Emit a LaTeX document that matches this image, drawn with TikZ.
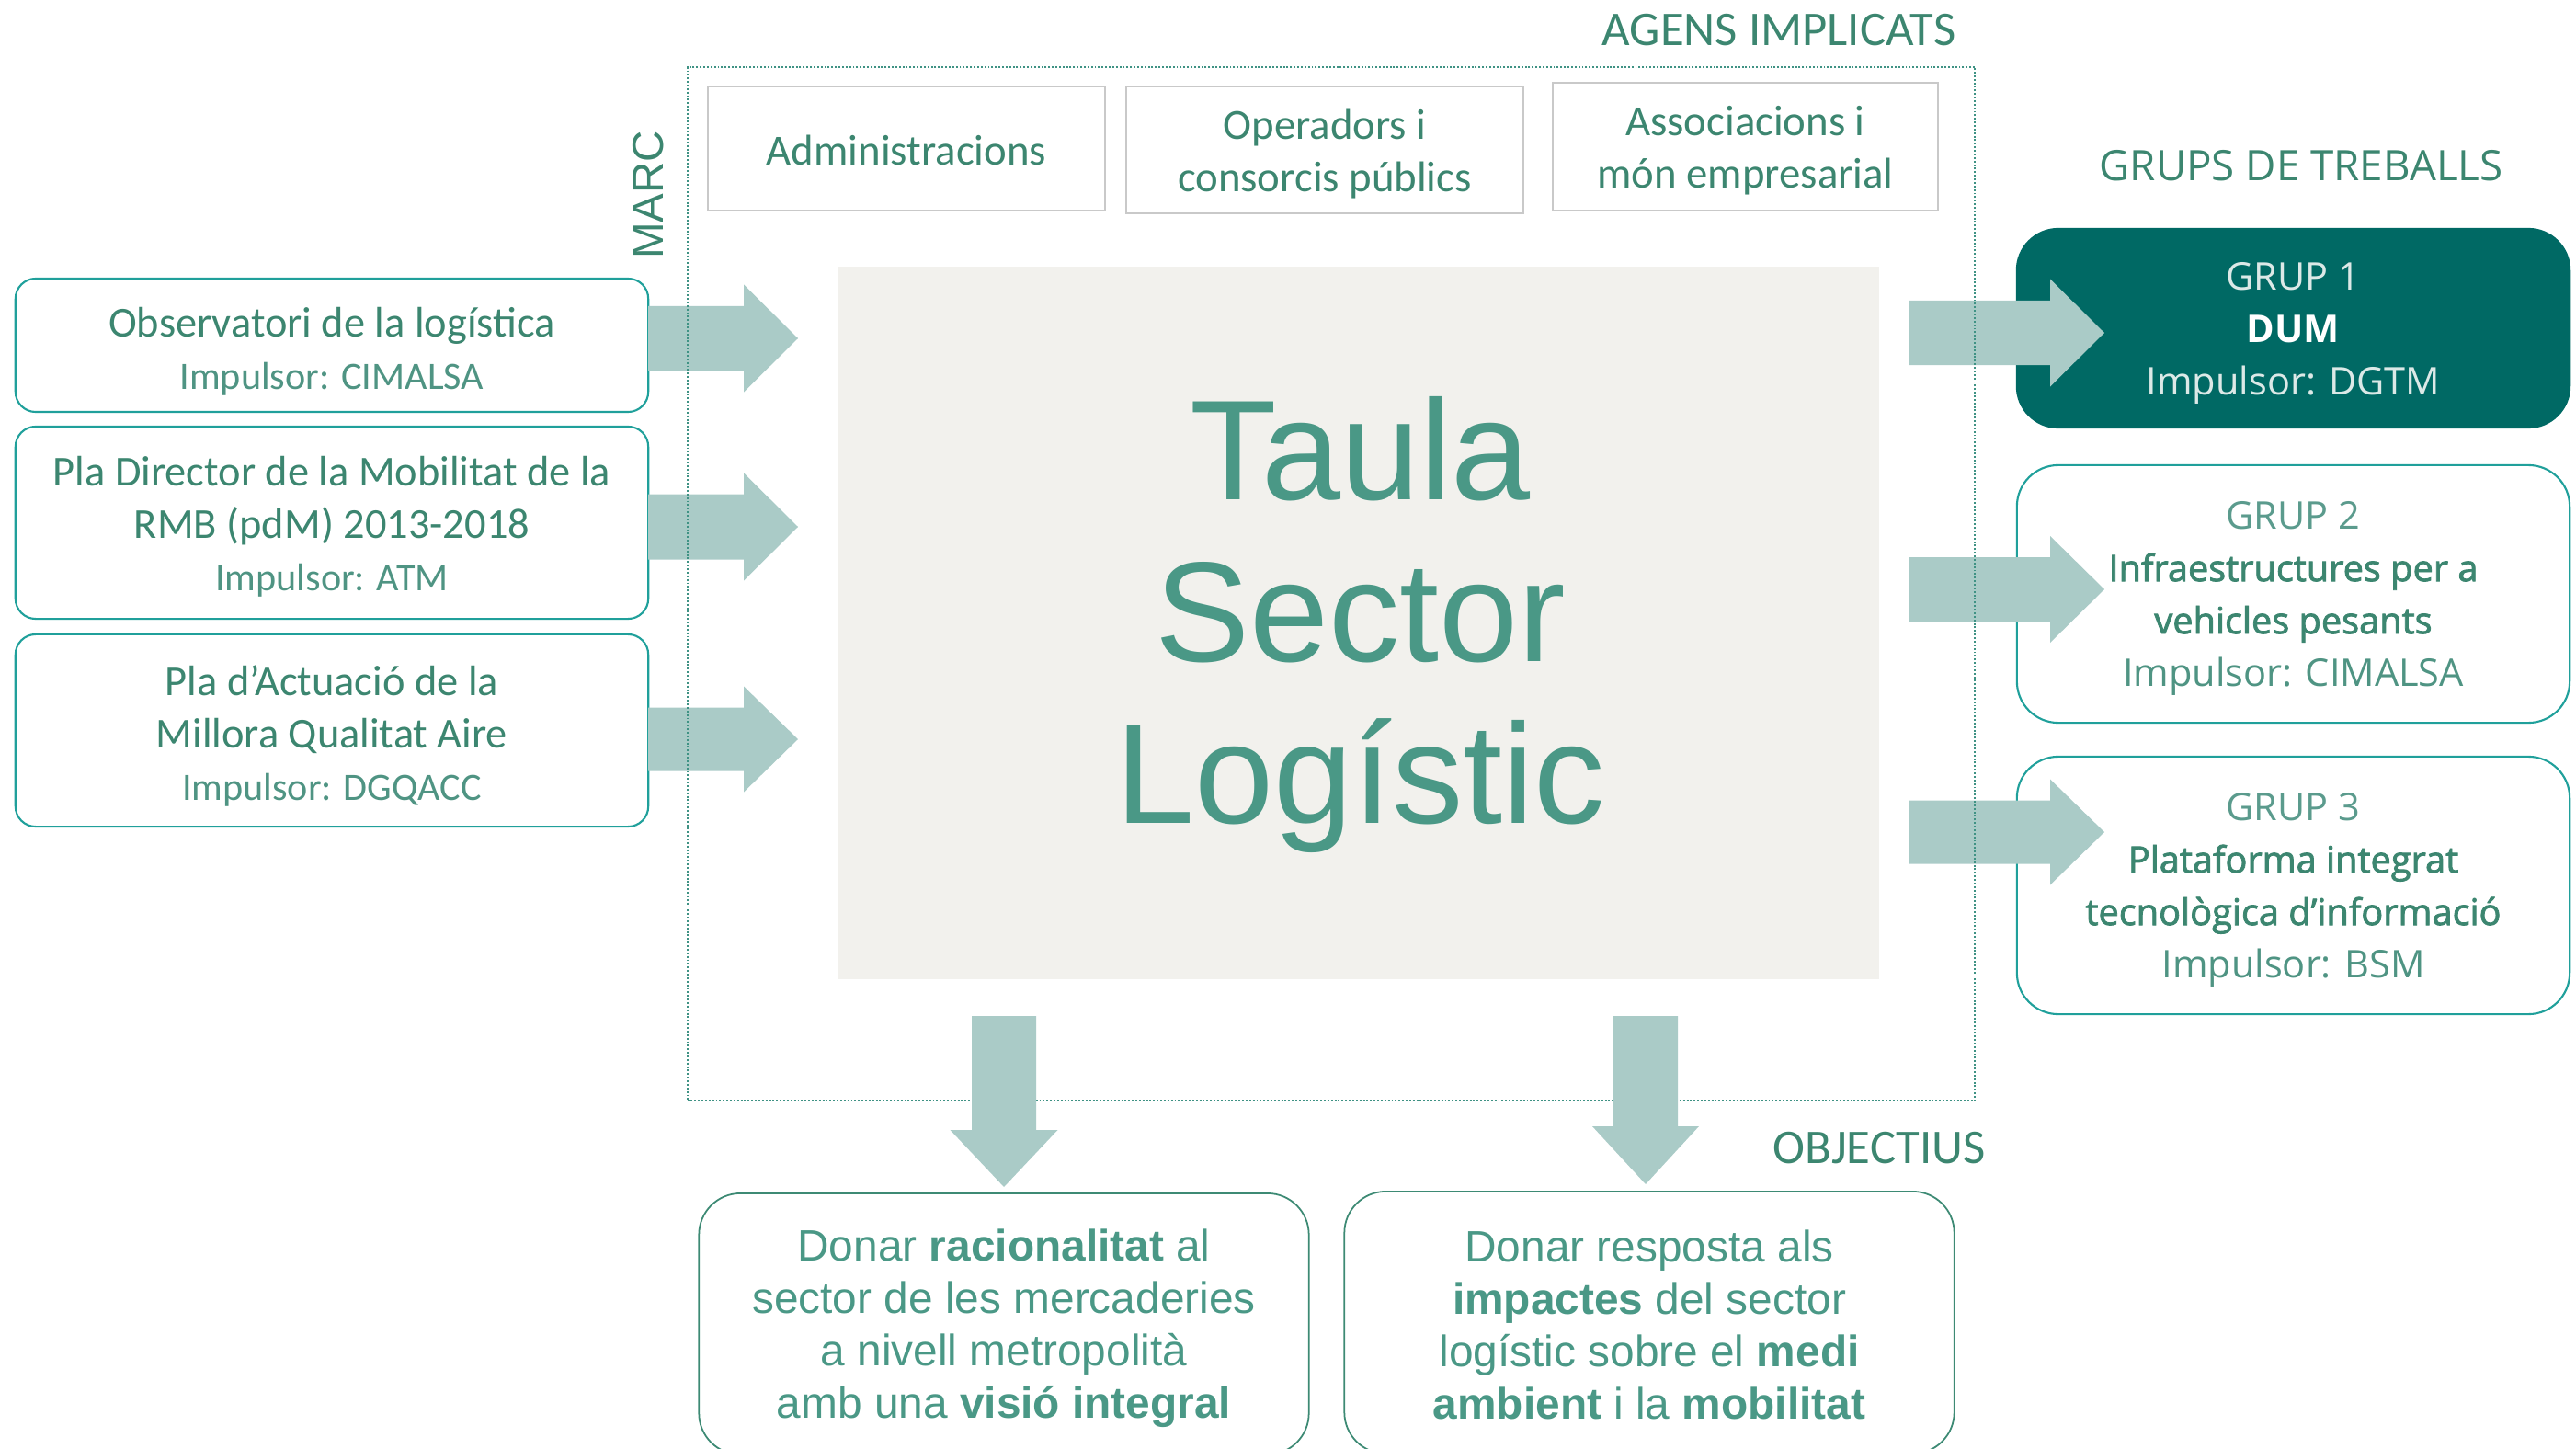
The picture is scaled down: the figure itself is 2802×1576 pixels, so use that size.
\documentclass[tikz,border=0pt]{standalone}
\usepackage{fontspec}
\setmainfont{Carlito}
\newfontfamily\arialf{Liberation Sans}
\newfontfamily\osans{Open Sans}
\newfontfamily\osansm[FakeBold=2]{Open Sans}
\definecolor{tdark}{HTML}{3C8670}
\definecolor{tlight}{HTML}{4F9483}
\definecolor{tgrp}{HTML}{5B9B8D}
\definecolor{taula}{HTML}{4A9886}
\definecolor{bordc}{HTML}{20A09B}
\definecolor{bordg}{HTML}{3D8A74}
\definecolor{arrc}{HTML}{AACBC7}
\definecolor{grayfill}{HTML}{F2F1ED}
\definecolor{agbord}{HTML}{C9C9C9}
\definecolor{darkteal}{HTML}{006964}
\definecolor{framec}{HTML}{3F9284}
\definecolor{gonea}{HTML}{DCE9E7}
\newcommand\rarr[6]{\fill[arrc] (#1,#4-#5) -- (#2,#4-#5) -- (#2,#4-#6) -- (#3,#4) -- (#2,#4+#6) -- (#2,#4+#5) -- (#1,#4+#5) -- cycle;}
\newcommand\darr[6]{\fill[arrc] (#1-#5,#2) -- (#1+#5,#2) -- (#1+#5,#3) -- (#1+#6,#3) -- (#1,#4) -- (#1-#6,#3) -- (#1-#5,#3) -- cycle;}
\newcommand\impl[1]{{\fontsize{12}{16.2}\selectfont\color{tlight}#1}}
\newcommand\gtit[1]{{\osansm\fontsize{11.3}{16.2}\selectfont #1}}
\begin{document}
\begin{tikzpicture}[x=0.01cm,y=-0.01cm,
  leftbox/.style={draw=bordc, line width=0.6pt, rounded corners=0.22cm, fill=white,
    minimum width=6.88cm, inner sep=0pt},
  lefttext/.style={inner sep=0pt, align=center, text=tdark, font=\fontsize{13.2}{16.2}\selectfont},
  agbox/.style={draw=agbord, line width=0.5pt, fill=white, inner sep=0pt},
  agtext/.style={inner sep=0pt, align=center, text=tdark, font=\fontsize{13.3}{16.2}\selectfont},
  grpbox/.style={draw=bordc, line width=0.6pt, rounded corners=0.45cm, fill=white,
    minimum width=6.01cm, inner sep=0pt},
  grptext/.style={inner sep=0pt, align=center, text=tdark, font=\osans\fontsize{11.8}{16.2}\selectfont},
  objbox/.style={draw=bordg, line width=0.5pt, rounded corners=0.45cm, fill=white,
    minimum width=6.63cm, inner sep=0pt},
  objtext/.style={inner sep=0pt, align=center, text=taula, font=\arialf\fontsize{13.6}{16.2}\selectfont},
  title/.style={text=tdark, inner sep=0pt, font=\fontsize{15}{18}\selectfont}]
\useasboundingbox (0,0) rectangle (2802,1576);
\clip (0,0) rectangle (2802,1576);

% group boxes
\node[grpbox, fill=darkteal, draw=darkteal, minimum height=2.16cm] (G1) at (2494.5,357) {};
\node[grpbox, minimum height=2.80cm] (G2) at (2494.5,646) {};
\node[grpbox, minimum height=2.80cm] (G3) at (2494.5,963) {};
\node[grptext, text=white] (G1t) at ([yshift=-1.5pt]G1.center)
  {{\color{gonea}GRUP 1}\\\textbf{DUM}\\{\color{gonea}Impulsor: DGTM}};
\node[grptext] (G2t) at ([yshift=-1.3pt]G2.center)
  {{\color{tgrp}GRUP 2}\\\gtit{Infraestructures per a}\\\gtit{vehicles pesants}\\{\color{tlight}Impulsor: CIMALSA}};
\node[grptext] (G3t) at ([yshift=-1.3pt]G3.center)
  {{\color{tgrp}GRUP 3}\\\gtit{Plataforma integrat}\\\gtit{tecnològica d’informació}\\{\color{tlight}Impulsor: BSM}};

% left boxes
\node[leftbox, minimum height=1.45cm] (L1) at (361,375.5) {};
\node[leftbox, minimum height=2.09cm] (L2) at (361,568.5) {};
\node[leftbox, minimum height=2.09cm] (L3) at (361,794.5) {};
\node[lefttext] (L1t) at ([yshift=-1.8pt]L1.center)
  {Observatori de la logística\\\impl{Impulsor: CIMALSA}};
\node[lefttext] (L2t) at ([yshift=-1.2pt]L2.center)
  {Pla Director de la Mobilitat de la\\RMB (pdM) 2013-2018\\\impl{Impulsor: ATM}};
\node[lefttext] (L3t) at ([yshift=-1.6pt]L3.center)
  {Pla d’Actuació de la\\Millora Qualitat Aire\\\impl{Impulsor: DGQACC}};

% block arrows left and right
\rarr{705}{809}{868}{368}{35}{58.5}
\rarr{705}{809}{868}{573}{35.5}{58.5}
\rarr{705}{809}{868}{804}{34.5}{57.5}
\rarr{2077}{2230}{2289}{362}{35}{58.5}
\rarr{2077}{2230}{2289}{641}{35}{58}
\rarr{2077}{2230}{2289}{905}{34.5}{57.5}

% dotted frame
\node[draw=framec, line width=0.6pt, dash pattern=on 0.55pt off 0.55pt, inner sep=0pt,
  minimum width=14.00cm, minimum height=11.24cm] (F) at (1448,635) {};

% down arrows
\darr{1092}{1105}{1229}{1291}{35}{58.5}
\darr{1790}{1105}{1225}{1288}{35}{58}

% central box
\node[fill=grayfill, inner sep=0pt, minimum width=11.32cm, minimum height=7.75cm] (TB) at (1478,677.5) {};
\node[text=taula, align=center, inner sep=0pt, font=\arialf\fontsize{44}{50}\selectfont] (T) at ([xshift=0.5pt,yshift=-0.5pt]TB.center)
  {Taula\\Sector\\Logístic};

% agent boxes
\node[agbox, minimum width=4.32cm, minimum height=1.35cm] (A1) at (986,161.5) {};
\node[agbox, minimum width=4.32cm, minimum height=1.38cm] (A2) at (1441,163) {};
\node[agbox, minimum width=4.19cm, minimum height=1.39cm] (A3) at (1898.5,159.5) {};
\node[agtext] (A1t) at ([yshift=-0.5pt]A1.center) {Administracions};
\node[agtext] (A2t) at ([yshift=-1.3pt]A2.center) {Operadors i\\consorcis públics};
\node[agtext] (A3t) at ([yshift=-1.3pt]A3.center) {Associacions i\\món empresarial};

% titles
\node[title] (AG) at (1935,33) {AGENS IMPLICATS};
\node[title] (OB) at (2044,1249) {OBJECTIUS};
\node[title, font=\osans\fontsize{13}{16}\selectfont] (GT) at (2503,180) {GRUPS DE TREBALLS};
\node[title, rotate=90, font=\arialf\fontsize{13.5}{16}\selectfont] (MA) at (705,212) {MARC};

% objective boxes
\node[objbox, minimum height=2.84cm] (O1) at (1092,1440) {};
\node[objbox, minimum height=2.85cm] (O2) at (1794,1438.5) {};
\node[objtext] (O1t) at ([yshift=-1.3pt]O1.center)
  {Donar \textbf{racionalitat} al\\sector de les mercaderies\\a nivell metropolità\\amb una \textbf{visió integral}};
\node[objtext] (O2t) at ([yshift=-0.6pt]O2.center)
  {Donar resposta als\\\textbf{impactes} del sector\\logístic sobre el \textbf{medi}\\\textbf{ambient} i la \textbf{mobilitat}};
\end{tikzpicture}
\end{document}
